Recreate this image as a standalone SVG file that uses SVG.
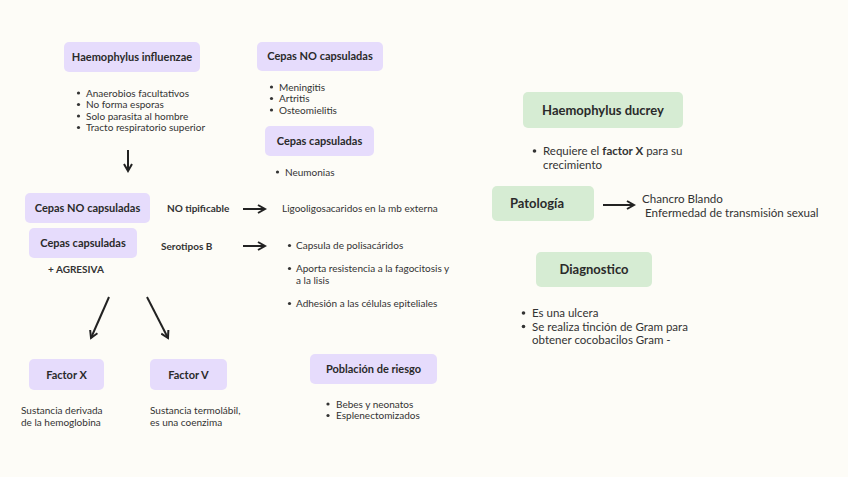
<svg xmlns="http://www.w3.org/2000/svg" width="848" height="477" viewBox="0 0 848 477">
<defs>
<marker id="ah" markerWidth="10" markerHeight="10" refX="8" refY="5" orient="auto" markerUnits="userSpaceOnUse">
<path d="M1,1 L8,5 L1,9" fill="none" stroke="#222" stroke-width="2"/>
</marker>
<style>
.bg{fill:#fdfcf7}
.p{fill:#e6dcfc}
.g{fill:#d6ecd3}
.t{font-family:Lato,"Open Sans",sans-serif;fill:#333}
.h{font-family:Lato,"Open Sans",sans-serif;font-weight:bold;fill:#2a2a2a;font-size:11px;text-anchor:middle}
.hb{font-family:Lato,"Open Sans",sans-serif;font-weight:bold;fill:#2a2a2a;font-size:13px;text-anchor:middle}
.s{font-size:10px}
.m{font-size:11.6px}
.c{stroke:#222;stroke-width:2;fill:none}
</style>
</defs>
<rect class="bg" width="848" height="477"/>

<g id="connectors">
<line class="c" x1="128" y1="150" x2="128" y2="171" marker-end="url(#ah)"/>
<line class="c" x1="243" y1="209" x2="265" y2="209" marker-end="url(#ah)"/>
<line class="c" x1="243" y1="246" x2="265" y2="246" marker-end="url(#ah)"/>
<line class="c" x1="109" y1="297" x2="91" y2="338" marker-end="url(#ah)"/>
<line class="c" x1="147" y1="297" x2="168" y2="338" marker-end="url(#ah)"/>
<line class="c" x1="603" y1="205" x2="634" y2="205" marker-end="url(#ah)"/>
</g>

<g id="influenzae">
<rect class="p" x="64" y="42" width="136" height="30" rx="5"/>
<text class="h" x="132" y="61">Haemophylus influenzae</text>
<g class="t s">
<circle cx="78.5" cy="93" r="1.6" fill="#333"/><text x="86" y="96.5">Anaerobios facultativos</text>
<circle cx="78.5" cy="104.5" r="1.6" fill="#333"/><text x="86" y="108">No forma esporas</text>
<circle cx="78.5" cy="116" r="1.6" fill="#333"/><text x="86" y="119.5">Solo parasita al hombre</text>
<circle cx="78.5" cy="127.5" r="1.6" fill="#333"/><text x="86" y="131">Tracto respiratorio superior</text>
</g>
</g>

<g id="top-no-caps">
<rect class="p" x="257" y="42" width="126" height="29" rx="5"/>
<text class="h" x="320" y="60">Cepas NO capsuladas</text>
<g class="t s">
<circle cx="271.5" cy="87" r="1.6" fill="#333"/><text x="279" y="90.5">Meningitis</text>
<circle cx="271.5" cy="98.5" r="1.6" fill="#333"/><text x="279" y="102">Artritis</text>
<circle cx="271.5" cy="110" r="1.6" fill="#333"/><text x="279" y="113.5">Osteomielitis</text>
</g>
</g>

<g id="top-caps">
<rect class="p" x="265" y="126" width="109" height="30" rx="5"/>
<text class="h" x="319.5" y="145">Cepas capsuladas</text>
<g class="t s">
<circle cx="277.5" cy="172" r="1.6" fill="#333"/><text x="285" y="175.5">Neumonias</text>
</g>
</g>

<g id="left-no-caps">
<rect class="p" x="25" y="193" width="125" height="30" rx="5"/>
<text class="h" x="87.5" y="212">Cepas NO capsuladas</text>
<text class="t" x="167" y="212" font-size="10" font-weight="bold">NO tipificable</text>
<text class="t s" x="282" y="212">Ligooligosacaridos en la mb externa</text>
</g>

<g id="left-caps">
<rect class="p" x="29" y="228" width="108" height="30" rx="5"/>
<text class="h" x="83" y="247">Cepas capsuladas</text>
<text class="t" x="48" y="273" font-size="10" font-weight="bold">+ AGRESIVA</text>
<text class="t" x="161" y="250" font-size="10" font-weight="bold">Serotipos B</text>
<g class="t s">
<circle cx="289.5" cy="245.5" r="1.6" fill="#333"/><text x="296" y="249">Capsula de polisacáridos</text>
<circle cx="289.5" cy="268.5" r="1.6" fill="#333"/><text x="296" y="272">Aporta resistencia a la fagocitosis y</text>
<text x="296" y="284">a la lisis</text>
<circle cx="289.5" cy="303.5" r="1.6" fill="#333"/><text x="296" y="307">Adhesión a las células epiteliales</text>
</g>
</g>

<g id="factor-x">
<rect class="p" x="29" y="359" width="75" height="31" rx="5"/>
<text class="h" x="66.5" y="378.5">Factor X</text>
<text class="t s" x="21" y="414">Sustancia derivada</text>
<text class="t s" x="21" y="426">de la hemoglobina</text>
</g>

<g id="factor-v">
<rect class="p" x="150" y="359" width="77" height="31" rx="5"/>
<text class="h" x="188.5" y="378.5">Factor V</text>
<text class="t s" x="150" y="414">Sustancia termolábil,</text>
<text class="t s" x="150" y="426">es una coenzima</text>
</g>

<g id="poblacion">
<rect class="p" x="310" y="354" width="127" height="30" rx="5"/>
<text class="h" x="373.5" y="373">Población de riesgo</text>
<g class="t s">
<circle cx="328" cy="404" r="1.6" fill="#333"/><text x="336" y="407.5">Bebes y neonatos</text>
<circle cx="328" cy="415.5" r="1.6" fill="#333"/><text x="336" y="419">Esplenectomizados</text>
</g>
</g>

<g id="ducrey">
<rect class="g" x="523" y="92" width="160" height="36" rx="5"/>
<text class="hb" x="603" y="114.5">Haemophylus ducrey</text>
<g class="t" font-size="11.5">
<circle cx="534.5" cy="151" r="1.8" fill="#333"/>
<text x="543" y="155">Requiere el <tspan font-weight="bold">factor X</tspan> para su</text>
<text x="543" y="168.5">crecimiento</text>
</g>
</g>

<g id="patologia">
<rect class="g" x="492" y="186" width="102" height="35" rx="5"/>
<text class="hb" x="537" y="208">Patología</text>
<text class="t m" x="642" y="203">Chancro Blando</text>
<text class="t m" x="645" y="217">Enfermedad de transmisión sexual</text>
</g>

<g id="diagnostico">
<rect class="g" x="536" y="252" width="116" height="35" rx="5"/>
<text class="hb" x="594" y="274">Diagnostico</text>
<g class="t" font-size="11.5">
<circle cx="523.5" cy="313" r="1.8" fill="#333"/><text x="532" y="317">Es una ulcera</text>
<circle cx="523.5" cy="326.5" r="1.8" fill="#333"/><text x="532" y="330.5">Se realiza tinción de Gram para</text>
<text x="532" y="344">obtener cocobacilos Gram -</text>
</g>
</g>
</svg>
